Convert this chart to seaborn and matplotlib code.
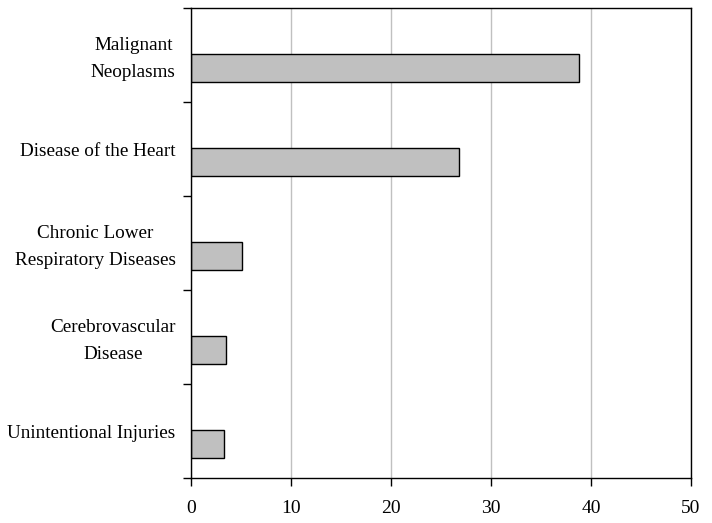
import matplotlib
matplotlib.use("Agg")
import matplotlib.pyplot as plt
import matplotlib.transforms as mtransforms
import seaborn as sns
import numpy as np
import pandas as pd

categories = ["Malignant\nNeoplasms", "Disease of the Heart",
              "Chronic Lower\nRespiratory Diseases", "Cerebrovascular\nDisease",
              "Unintentional Injuries"]
values = [38.8, 26.8, 5.1, 3.5, 3.25]
x_ticks = [0, 10, 20, 30, 40, 50]

sns.set_theme(style="white")
plt.rcParams["font.family"] = ["Liberation Serif", "DejaVu Serif"]
plt.rcParams["text.color"] = "black"
plt.rcParams["xtick.color"] = "black"
plt.rcParams["ytick.color"] = "black"

df = pd.DataFrame({"cause": categories, "value": values})

fig = plt.figure(figsize=(7.12, 5.23), dpi=100)
ax = fig.add_axes([191/712, 1-478/523, 500/712, 470/523])

sns.barplot(data=df, y="cause", x="value", orient="h", color="#c0c0c0",
            saturation=1, edgecolor="black", linewidth=1.0, width=0.3, ax=ax)

n = len(categories)
off = 0.138  # bars sit below the band centre
ax.set_ylim(n - 1 - off + 0.5, -off - 0.5)
ax.set_xlim(0, 50)
ax.set_xticks(x_ticks)
ax.set_xticklabels([str(t) for t in x_ticks])

bounds = [-off - 0.5 + k for k in range(n + 1)]
centers = [k - off for k in range(n)]
ax.set_yticks(bounds)
ax.set_yticklabels([])
ax.set_yticks(centers, minor=True)
ax.set_yticklabels(categories, minor=True, fontsize=13.8, multialignment="center",
                   linespacing=1.8, color="black")
ax.tick_params(axis="y", which="major", length=5.5, width=1, color="black", direction="out", left=True)
ax.tick_params(axis="y", which="minor", length=0, pad=11)
ax.tick_params(axis="x", which="major", length=5.5, width=1, color="black", direction="out",
               bottom=True, labelsize=14, pad=10, labelcolor="black")

# nudge two-line labels up slightly
shift = mtransforms.ScaledTranslation(0, 0.035, fig.dpi_scale_trans)
for t in ax.yaxis.get_minor_ticks():
    if "\n" in t.label1.get_text():
        t.label1.set_transform(t.label1.get_transform() + shift)

ax.set_xlabel("")
ax.set_ylabel("")
ax.xaxis.grid(True, color="#c0c0c0", linewidth=1)
ax.yaxis.grid(False)
ax.set_axisbelow(True)
for s in ax.spines.values():
    s.set_visible(True)
    s.set_color("black")
    s.set_linewidth(1)

fig.savefig("out.png", dpi=100)
